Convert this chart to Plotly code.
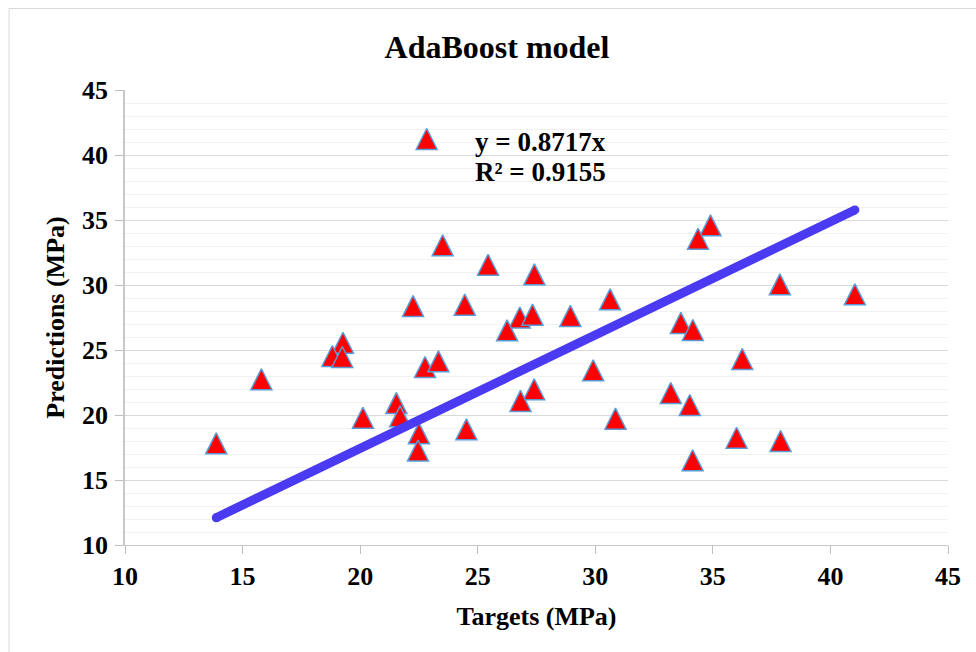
import plotly.graph_objects as go

# Measured targets vs. AdaBoost predictions (MPa)
targets = [22.83, 23.51, 25.44, 27.41, 22.25, 24.45, 30.63, 26.79, 27.33, 28.94,
           26.25, 22.76, 23.33, 29.91, 33.21, 27.40, 26.82, 24.52, 30.86, 22.50,
           22.46, 13.88, 15.80, 19.27, 18.82, 19.24, 20.12, 21.54, 21.70, 34.90,
           34.37, 37.85, 41.04, 36.25, 34.02, 36.01, 37.88, 34.14, 33.64, 34.15]
predictions = [41.23, 33.05, 31.56, 30.82, 28.38, 28.49, 28.90, 27.50, 27.72, 27.62,
               26.51, 23.69, 24.13, 23.44, 21.69, 21.98, 21.08, 18.90, 19.72, 18.59,
               17.26, 17.82, 22.75, 25.56, 24.54, 24.46, 19.79, 20.92, 19.90, 34.59,
               33.56, 30.05, 29.28, 24.31, 20.77, 18.25, 18.00, 16.52, 27.08, 26.54]

# Linear trendline through the origin
slope = 0.8717
r_squared = 0.9155

axis_ticks = [10, 15, 20, 25, 30, 35, 40, 45]

FONT = "Liberation Serif"
TREND_COLOR = "#4A3AF2"

fit_x = [min(targets), max(targets)]
fit_y = [slope * v for v in fit_x]

fig = go.Figure()

# Triangles: arrow glyph rotated upright and shifted so the glyph is centred on the point
marker_size = 21
fig.add_trace(go.Scatter(
    x=targets, y=predictions, mode="markers",
    marker=dict(symbol="arrow-down", angle=180, standoff=marker_size / 2,
                size=marker_size, color="#FF0000",
                line=dict(color="#5B9BD5", width=1.5)),
    showlegend=False, hoverinfo="x+y",
))

fig.add_trace(go.Scatter(
    x=fit_x, y=fit_y, mode="lines+markers",
    line=dict(color=TREND_COLOR, width=9),
    marker=dict(symbol="circle", size=9, color=TREND_COLOR, line=dict(width=0)),
    showlegend=False, hoverinfo="skip",
))

fig.add_annotation(
    text=f"y = {slope}x", xref="paper", yref="paper", x=0.423, y=0.886,
    xanchor="left", yanchor="middle", showarrow=False,
    font=dict(family=FONT, size=27, color="black", weight="bold"),
)
fig.add_annotation(
    text=f"R² = {r_squared}", xref="paper", yref="paper", x=0.423, y=0.820,
    xanchor="left", yanchor="middle", showarrow=False,
    font=dict(family=FONT, size=27, color="black", weight="bold"),
)

# Light chart-area frame (top and left edges)
fig.add_shape(type="line", xref="paper", yref="paper",
              x0=(9 - 125) / 823, x1=1.1, y0=(545 - 8.5) / 455, y1=(545 - 8.5) / 455,
              line=dict(color="#D9D9D9", width=1))
fig.add_shape(type="line", xref="paper", yref="paper",
              x0=(9 - 125) / 823, x1=(9 - 125) / 823, y0=(545 - 8.5) / 455, y1=-0.3,
              line=dict(color="#D9D9D9", width=1))

tick_font = dict(family=FONT, size=26, color="black", weight="bold")

fig.update_layout(
    width=976, height=652,
    margin=dict(l=125, r=28, t=90, b=107),
    paper_bgcolor="white", plot_bgcolor="white",
    title=dict(text="AdaBoost model", x=497 / 976, xref="container", xanchor="center",
               y=1 - 47 / 652, yref="container", yanchor="middle",
               font=dict(family=FONT, size=32, color="black", weight="bold")),
    xaxis=dict(
        range=[10, 45], tickvals=axis_ticks, ticks="outside", ticklen=8,
        tickcolor="#BFBFBF", tickwidth=1.3, showline=True, linecolor="#C8C8C8",
        linewidth=1.3, showgrid=False, zeroline=False, tickfont=tick_font,
        title=dict(text="Targets (MPa)", font=tick_font, standoff=16),
    ),
    yaxis=dict(
        range=[10, 45], tickvals=axis_ticks, ticks="outside", ticklen=8,
        tickcolor="#BFBFBF", tickwidth=1.3, showline=True, linecolor="#C8C8C8",
        linewidth=1.5, showgrid=True, gridcolor="#D9D9D9", gridwidth=1.3,
        zeroline=False, tickfont=tick_font, ticklabelstandoff=2,
        minor=dict(dtick=1, showgrid=True, gridcolor="#F1F1F1", gridwidth=1.3),
        title=dict(text="Predictions (MPa)", font=tick_font, standoff=10),
    ),
)

fig.write_html("out.html")
